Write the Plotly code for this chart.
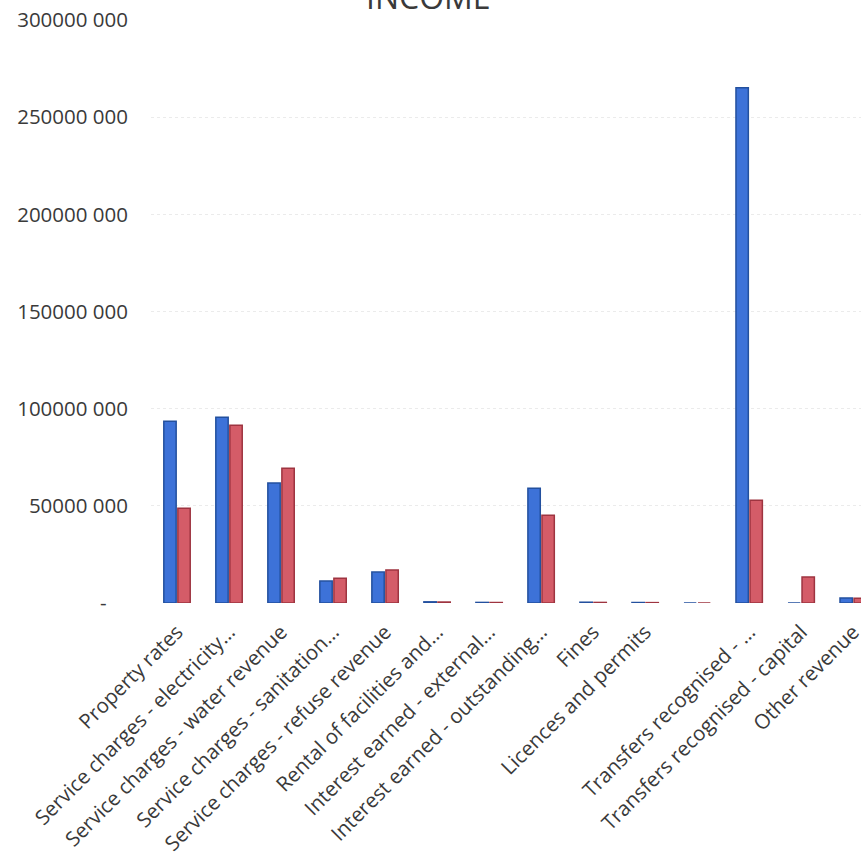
import plotly.graph_objects as go

# Revenue categories (one slot left unlabelled, as in the source table)
categories = [
    "Property rates",
    "Service charges - electricity…",
    "Service charges - water revenue",
    "Service charges - sanitation…",
    "Service charges - refuse revenue",
    "Rental of facilities and…",
    "Interest earned - external…",
    "Interest earned - outstanding…",
    "Fines",
    "Licences and permits",
    " ",
    "Transfers recognised - …",
    "Transfers recognised - capital",
    "Other revenue",
]

series_1 = [93500000, 95600000, 61700000, 11300000, 15900000, 600000, 300000,
            59100000, 400000, 250000, 0, 265200000, 0, 2600000]
series_2 = [48800000, 91500000, 69400000, 12800000, 17000000, 500000, 250000,
            45200000, 300000, 200000, 0, 52900000, 13400000, 2500000]

y_ticks = [0, 50000000, 100000000, 150000000, 200000000, 250000000, 300000000]
y_tick_text = ["-\u00a0\u00a0\u00a0\u00a0", "50000 000", "100000 000", "150000 000",
               "200000 000", "250000 000", "300000 000"]

x_idx = list(range(len(categories)))

font_family = "Open Sans, Lato, sans-serif"
text_color = "#3a3a3a"

fig = go.Figure()
fig.add_trace(go.Bar(
    x=x_idx, y=series_1, name="Series 1",
    marker=dict(color="#3d72d8", line=dict(color="#23509e", width=1.5)),
))
fig.add_trace(go.Bar(
    x=x_idx, y=series_2, name="Series 2",
    marker=dict(color="#d45c68", line=dict(color="#9e3440", width=1.5)),
))

fig.update_layout(
    width=865, height=861,
    margin=dict(l=151, r=0, t=20, b=258),
    paper_bgcolor="white", plot_bgcolor="white",
    barmode="group", bargap=0.46, bargroupgap=0.12,
    showlegend=False,
    font=dict(family=font_family, color=text_color),
    annotations=[dict(
        text="INCOME", xref="paper", yref="paper", x=0.391, y=1.0,
        yshift=23.5, xanchor="center", yanchor="middle", showarrow=False,
        font=dict(size=32, family=font_family, color=text_color),
    )],
)

fig.update_xaxes(
    tickmode="array", tickvals=x_idx, ticktext=categories,
    range=[-0.5, 13.15], tickangle=-45, ticks="",
    tickfont=dict(size=20.5, family=font_family, color=text_color),
    ticklabeloverflow="allow", ticklabelstandoff=12,
    showgrid=False, showline=False, zeroline=False,
)
fig.update_yaxes(
    range=[0, 300000000], tickmode="array", tickvals=y_ticks, ticktext=y_tick_text,
    tickfont=dict(size=20.5, family=font_family, color=text_color),
    showgrid=True, gridcolor="#ebebeb", gridwidth=1, griddash="dot",
    zeroline=False, showline=False, ticks="", ticklabelstandoff=22,
)

fig.write_html("out.html")
